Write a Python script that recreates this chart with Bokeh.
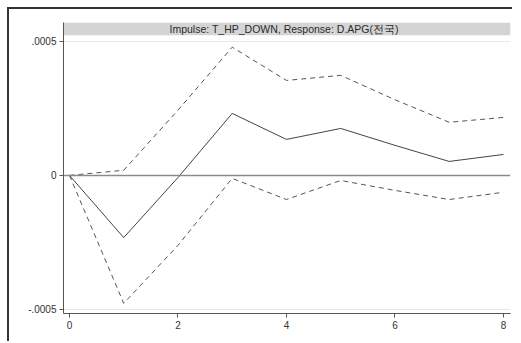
from bokeh.plotting import figure
from bokeh.models import Range1d, FixedTicker, Span, Label
from bokeh.embed import file_html
from bokeh.resources import INLINE

steps = [0, 1, 2, 3, 4, 5, 6, 7, 8]
irf = [0.0, -0.000232, -0.000008, 0.000231, 0.000134, 0.000175, 0.000112, 0.000052, 0.000078]
upper = [0.0, 0.000019, 0.000243, 0.000478, 0.000354, 0.000373, 0.000282, 0.000198, 0.000216]
lower = [0.0, -0.000477, -0.000261, -0.000011, -0.000090, -0.000019, -0.000056, -0.000090, -0.000063]
y_ticks = [-0.0005, 0, 0.0005]
y_labels = {-0.0005: "-.0005", 0: "0", 0.0005: ".0005"}
x_ticks = [0, 2, 4, 6, 8]
title_text = "Impulse: T_HP_DOWN,   Response: D.APG(전국)"

X0, X1 = -0.11, 8.13
Y0, Y1 = -0.000515, 0.000522
BAND_TOP = 0.000570

p = figure(width=505, height=334, output_backend="svg", toolbar_location=None,
           x_range=Range1d(X0, X1), y_range=Range1d(Y0, BAND_TOP),
           min_border_left=54, min_border_right=4, min_border_top=13, min_border_bottom=30)
p.outline_line_color = None
p.background_fill_color = "white"
p.border_fill_color = "white"
p.styles = {"margin-left": "7px", "margin-top": "7px",
            "border-left": "2px solid #333333", "border-top": "2px solid #333333"}

p.quad(left=[X0], right=[X1], bottom=[Y1], top=[BAND_TOP],
       fill_color="#d4d4d4", line_color=None)
p.add_layout(Label(x=(X0 + X1) / 2, y=(Y1 + BAND_TOP) / 2, text=title_text,
                   text_align="center", text_baseline="middle",
                   text_font="Liberation Sans", text_font_size="10.5px", text_color="#2a2a2a"))

p.line(steps, upper, line_color="#555555", line_width=1, line_dash="5 4")
p.line(steps, lower, line_color="#555555", line_width=1, line_dash="5 4")
p.line(steps, irf, line_color="#444444", line_width=1)
p.add_layout(Span(location=0, dimension="width", line_color="#8a8a8a", line_width=1.5))

p.xgrid.visible = False
p.ygrid.ticker = FixedTicker(ticks=[-0.0005, 0.0005])
p.ygrid.grid_line_color = "#e8e8e8"

p.yaxis.ticker = FixedTicker(ticks=y_ticks)
p.yaxis.major_label_overrides = y_labels
p.xaxis.ticker = FixedTicker(ticks=x_ticks)
for ax in (p.xaxis, p.yaxis):
    ax.axis_line_color = "#555555"
    ax.major_tick_line_color = "#555555"
    ax.minor_tick_line_color = None
    ax.major_tick_out = 4
    ax.major_tick_in = 0
    ax.major_label_text_font = "Liberation Sans"
    ax.major_label_text_font_size = "10px"
    ax.major_label_text_color = "#333333"
    ax.major_label_standoff = 3
p.yaxis.major_label_orientation = "horizontal"

open("out.html", "w").write(file_html(p, INLINE))
